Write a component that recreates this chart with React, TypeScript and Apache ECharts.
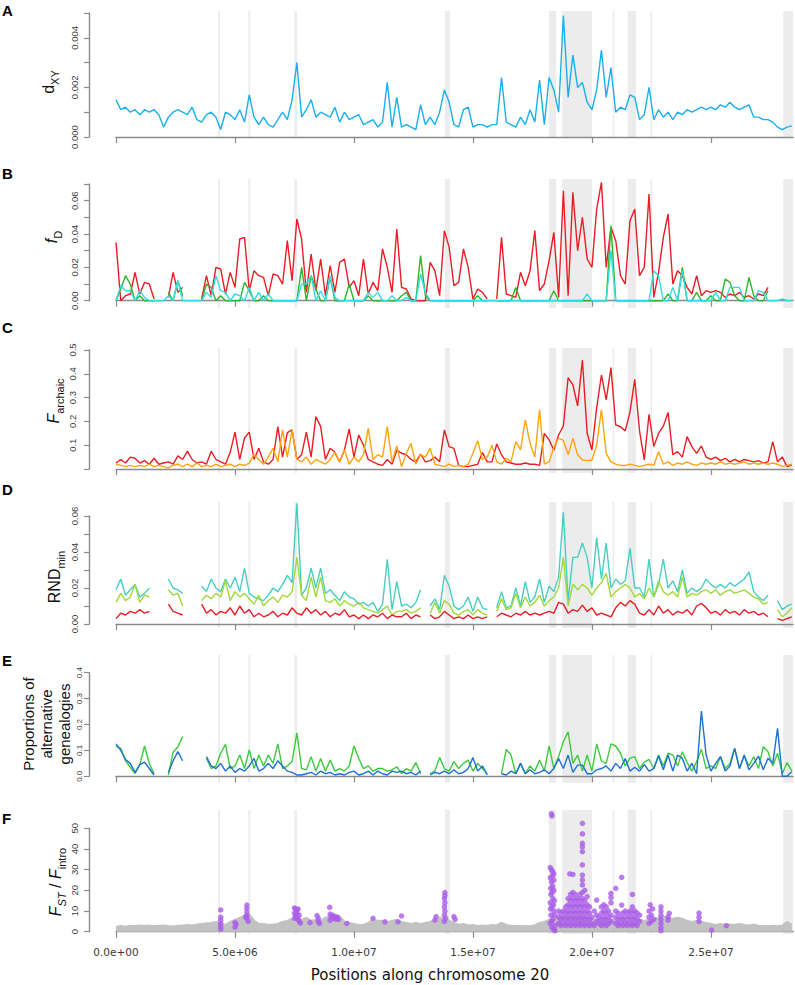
import React, { useEffect, useRef } from "react";
import * as echarts from "echarts";

// window positions along chromosome 20, in Mb
const positionsMb = [
  0, 0.2, 0.4, 0.6, 0.8, 1, 1.2, 1.4, 1.6, 1.8,
  2, 2.2, 2.4, 2.6, 2.8, 3, 3.2, 3.4, 3.6, 3.8,
  4, 4.2, 4.4, 4.6, 4.8, 5, 5.2, 5.4, 5.6, 5.8,
  6, 6.2, 6.4, 6.6, 6.8, 7, 7.2, 7.4, 7.6, 7.8,
  8, 8.2, 8.4, 8.6, 8.8, 9, 9.2, 9.4, 9.6, 9.8,
  10, 10.2, 10.4, 10.6, 10.8, 11, 11.2, 11.4, 11.6, 11.8,
  12, 12.2, 12.4, 12.6, 12.8, 13, 13.2, 13.4, 13.6, 13.8,
  14, 14.2, 14.4, 14.6, 14.8, 15, 15.2, 15.4, 15.6, 15.8,
  16, 16.2, 16.4, 16.6, 16.8, 17, 17.2, 17.4, 17.6, 17.8,
  18, 18.2, 18.4, 18.6, 18.8, 19, 19.2, 19.4, 19.6, 19.8,
  20, 20.2, 20.4, 20.6, 20.8, 21, 21.2, 21.4, 21.6, 21.8,
  22, 22.2, 22.4, 22.6, 22.8, 23, 23.2, 23.4, 23.6, 23.8,
  24, 24.2, 24.4, 24.6, 24.8, 25, 25.2, 25.4, 25.6, 25.8,
  26, 26.2, 26.4, 26.6, 26.8, 27, 27.2, 27.4, 27.6, 27.8,
  28, 28.2, 28.4,
];

// A: dXY (x 1e-3)
const dxyE3 = [
  1.5, 1.1, 1.2, 1.0, 1.1, 0.9, 1.1, 1.0, 1.1, 0.9,
  0.4, 0.8, 1.0, 1.1, 1.0, 0.9, 1.2, 0.7, 0.6, 0.9,
  1.0, 0.8, 0.3, 1.0, 0.9, 0.7, 1.1, 0.6, 1.7, 0.8,
  0.5, 0.8, 0.5, 0.4, 0.7, 1.0, 0.7, 1.5, 3.0, 0.8,
  1.1, 1.5, 0.8, 1.0, 0.9, 0.8, 1.2, 0.6, 1.0, 0.7,
  0.8, 0.9, 0.5, 0.6, 0.7, 0.4, 0.6, 2.2, 0.4, 1.6,
  0.4, 0.5, 0.4, 0.3, 1.3, 0.5, 0.8, 0.5, 1.0, 1.9,
  1.4, 0.5, 0.4, 1.1, 1.2, 0.4, 0.5, 0.5, 0.4, 0.5,
  0.5, 2.4, 0.6, 0.5, 0.4, 0.8, 0.5, 1.1, 0.6, 2.3,
  0.5, 2.4, 1.9, 1.0, 4.9, 1.6, 3.3, 2.0, 2.2, 1.4,
  1.1, 1.9, 3.5, 1.6, 2.8, 1.0, 1.2, 1.1, 1.7, 1.6,
  0.7, 0.9, 2.0, 0.7, 1.1, 0.8, 1.0, 0.7, 1.0, 0.9,
  1.1, 1.0, 1.1, 1.2, 1.1, 1.2, 1.1, 1.3, 1.2, 1.4,
  1.2, 1.1, 1.2, 1.3, 0.8, 0.8, 0.7, 0.7, 0.6, 0.4,
  0.3, 0.4, 0.45,
];

// B: fD (x 1e-2)
const fdRed = [
  3.5, 0.0, 0.3, 0.4, 1.7, 0.4, 1.1, 1.0, 0.1, null,
  null, 0.2, 1.7, 0.5, 0.8, null, null, null, 0.1, 1.5,
  0.3, 2.0, 1.9, 0.4, 1.7, 0.8, 3.7, 3.8, 0.6, 1.8,
  1.5, 1.4, 0.3, 1.6, 1.5, 1.0, 3.6, 1.2, 4.9, 3.7,
  0.5, 2.8, 0.6, 2.5, 0.3, 2.1, 0.5, 2.3, 2.5, 0.8,
  1.2, 0.3, 2.5, 0.4, 1.1, 0.6, 3.1, 2.0, 0.5, 4.3,
  0.8, 0.7, 0.1, 0.0, 0.0, 0.0, 2.3, 1.8, 0.3, 4.2,
  3.2, 0.9, 1.1, 3.1, 2.0, 0.1, 0.7, 0.5, 0.1, null,
  0.1, 3.8, 0.4, 0.3, 0.2, 1.7, 0.9, 1.8, 4.2, 0.6,
  1.0, 2.4, 4.1, 0.2, 6.6, 0.3, 6.5, 3.0, 5.0, 2.5,
  2.0, 5.5, 7.1, 2.0, 4.4, 3.6, 1.5, 1.0, 4.8, 5.5,
  1.5, 2.0, 6.4, 0.2, 1.7, 3.8, 5.2, 1.0, 1.8, 1.5,
  0.8, 0.4, 1.5, 0.3, 0.6, 0.5, 0.6, 0.5, 0.2, 0.4,
  0.3, 0.5, 0.2, 0.3, 0.1, 0.4, 0.3, 0.8, null, null,
  null, null, null,
];
const fdGreen = [
  0.0, 0.7, 1.5, 1.0, 0.0, 0.3, 0.0, 0.0, 0.0, null,
  null, 0.5, 0.0, 1.2, 0.3, null, null, null, 0.0, 1.0,
  0.8, 0.0, 0.3, 0.0, 0.0, 0.0, 0.0, 1.1, 0.6, 0.0,
  0.0, 0.3, 0.0, 0.0, 0.0, 0.0, 0.0, 0.0, 0.0, 2.0,
  0.0, 1.5, 0.7, 0.0, 0.0, 1.4, 0.0, 0.0, 0.0, 1.0,
  0.0, 0.0, 0.0, 0.3, 0.0, 0.0, 0.0, 0.0, 0.0, 0.0,
  0.3, 0.5, 0.0, 0.0, 2.7, 0.3, 0.0, 0.0, 0.0, 0.0,
  0.0, 0.0, 0.0, 0.0, 0.0, 0.0, 0.3, 0.0, 0.0, null,
  0.0, 0.0, 0.0, 0.0, 0.8, 0.0, 0.0, 0.0, 0.0, 0.0,
  0.0, 0.0, 0.6, 0.0, 0.0, 0.0, 0.0, 0.0, 0.0, 0.0,
  0.0, 0.0, 0.0, 0.0, 4.5, 0.0, 0.0, 0.0, 0.0, 0.0,
  0.0, 0.0, 0.0, 0.0, 0.0, 0.0, 0.4, 0.0, 0.0, 2.0,
  0.0, 0.0, 0.5, 0.0, 0.0, 0.3, 0.0, 0.0, 1.3, 1.1,
  0.3, 0.0, 0.0, 1.4, 0.3, 0.0, 0.0, 0.6, null, null,
  null, null, null,
];
const fdCyan = [
  0.0, 0.9, 0.6, 0.6, 0.0, 0.6, 0.2, 0.0, 0.0, 0.0,
  0.0, 0.3, 0.0, 1.2, 0.0, 0.0, 0.0, 0.0, 0.0, 0.5,
  0.2, 1.5, 0.6, 0.5, 0.0, 0.4, 0.3, 0.0, 0.8, 0.0,
  0.5, 0.0, 0.4, 0.0, 0.0, 0.0, 0.0, 0.0, 0.0, 1.0,
  1.0, 1.5, 0.0, 0.6, 0.0, 1.5, 0.2, 0.0, 0.0, 0.0,
  0.0, 0.0, 0.0, 0.5, 0.2, 0.5, 0.0, 0.0, 0.3, 0.0,
  0.0, 0.2, 0.0, 0.0, 1.6, 0.5, 0.0, 0.0, 0.0, 0.0,
  0.0, 0.0, 0.0, 0.0, 0.0, 0.0, 0.0, 0.0, 0.0, 0.0,
  0.0, 0.0, 0.0, 0.0, 0.0, 0.0, 0.0, 0.0, 0.0, 0.0,
  0.0, 0.0, 0.0, 0.0, 0.0, 0.0, 0.0, 0.0, 0.0, 0.4,
  0.0, 0.0, 0.0, 0.0, 3.0, 0.0, 0.0, 0.0, 0.0, 0.0,
  0.0, 0.0, 0.0, 1.8, 1.5, 0.0, 0.0, 0.8, 0.0, 1.8,
  0.0, 0.0, 0.0, 0.0, 0.0, 0.0, 0.5, 0.0, 0.0, 0.8,
  0.8, 0.8, 0.0, 0.0, 0.0, 0.6, 0.5, 0.0, 0.0, 0.0,
  0.1, 0.0, 0.0,
];

// C: F_archaic (x 1e-2)
const farchRed = [
  2.5, 4.0, 2.5, 5.0, 4.5, 2.5, 3.5, 2.0, 4.5, 2.0,
  2.5, 3.0, 2.0, 5.5, 4.0, 7.5, 4.0, 2.5, 3.0, 2.0,
  7.5, 4.0, 3.0, 2.0, 7.0, 15.5, 4.0, 13.0, 15.5, 4.0,
  8.7, 3.0, 2.0, 4.0, 17.8, 5.0, 15.3, 16.4, 4.0, 6.0,
  15.5, 5.0, 22.0, 17.8, 4.0, 8.7, 7.0, 3.0, 8.0, 16.8,
  5.0, 14.3, 10.0, 4.0, 3.0, 2.0, 1.5, 4.0, 2.0, 8.0,
  6.6, 6.0, 4.0, 3.0, 6.3, 3.0, 3.5, 5.0, 3.0, 16.4,
  9.4, 8.7, 1.5, 1.0, 1.0, 1.5, 2.0, 6.9, 3.0, 3.0,
  10.5, 6.0, 3.0, 2.5, 2.0, 2.0, 2.5, 2.0, 2.0, 1.5,
  15.0, 12.2, 8.0, 14.3, 18.1, 38.4, 35.3, 26.5, 45.8, 15.0,
  8.0, 25.8, 39.5, 29.0, 42.6, 18.5, 17.8, 16.0, 24.0, 37.7,
  16.0, 3.8, 23.0, 9.4, 15.0, 18.0, 23.8, 6.0, 7.3, 5.0,
  13.6, 9.4, 6.6, 9.7, 5.0, 4.0, 5.0, 3.5, 4.5, 3.0,
  4.0, 3.0, 4.0, 3.5, 3.0, 3.5, 2.5, 3.0, 11.5, 3.0,
  5.0, 1.0, 1.7,
];
const farchOrange = [
  2.0, 1.5, 1.0, 1.5, 1.0, 1.5, 1.0, 2.0, 1.0, 1.5,
  1.0, 0.5, 1.5, 2.0, 1.0, 2.0, 1.0, 2.5, 1.0, 1.5,
  1.0, 2.0, 1.0, 1.5, 2.0, 1.0, 2.0, 1.5, 2.5, 6.0,
  4.0, 2.0, 5.0, 8.7, 3.0, 16.4, 5.0, 16.4, 4.0, 3.0,
  5.0, 2.0, 4.0, 3.0, 2.0, 4.0, 7.0, 3.0, 8.0, 2.0,
  5.0, 3.0, 6.0, 17.1, 4.0, 6.0, 5.0, 17.8, 3.0, 9.7,
  1.0, 6.6, 10.8, 2.0, 6.0, 5.0, 8.7, 2.0, 1.5, 1.0,
  2.0, 1.0, 1.5, 1.0, 2.0, 6.6, 11.9, 4.0, 5.0, 10.0,
  3.0, 2.0, 4.5, 3.0, 11.5, 8.0, 20.6, 10.8, 5.0, 25.0,
  2.0, 3.0, 9.0, 13.0, 12.0, 6.0, 12.9, 6.0, 3.8, 3.5,
  3.8, 10.0, 25.0, 6.6, 3.0, 2.0, 1.5, 1.5, 2.0, 1.5,
  1.0, 1.5, 2.0, 1.5, 7.3, 2.0, 3.0, 1.5, 2.5, 2.0,
  3.0, 2.0, 1.5, 2.5, 2.0, 2.5, 2.0, 3.0, 2.0, 2.5,
  2.0, 2.5, 3.0, 2.0, 2.5, 2.0, 2.5, 2.0, 2.5, 2.0,
  1.0, 1.5, 2.0,
];

// D: RND_min (x 1e-2)
const rndTurquoise = [
  1.9, 2.5, 1.6, 1.9, 2.2, 1.5, 1.7, 2.0, null, null,
  null, 2.5, 2.0, 1.9, 1.7, null, null, null, 2.1, 1.8,
  2.5, 2.0, 1.8, 2.5, 2.0, 2.6, 1.8, 3.1, 1.7, 1.5,
  1.4, 1.3, 1.6, 2.0, 1.8, 2.2, 2.7, 2.3, 6.7, 1.6,
  2.0, 3.1, 2.0, 3.1, 1.7, 1.9, 1.6, 1.3, 1.8, 1.5,
  1.4, 1.1, 1.2, 1.0, 1.2, 0.7, 1.1, 3.6, 0.8, 2.35,
  1.0, 1.1, 0.9, 1.2, 1.9, null, 1.0, 1.4, 0.8, 2.7,
  2.1, 1.0, 0.8, 1.0, 1.5, 0.7, 1.5, 0.9, 0.8, null,
  0.9, 1.8, 0.9, 1.0, 2.0, 1.0, 2.35, 1.2, 1.5, 2.5,
  1.2, 2.1, 1.8, 2.6, 6.2, 1.3, 3.7, 3.7, 4.5, 3.7,
  2.0, 4.8, 2.5, 4.5, 2.0, 2.5, 2.2, 2.4, 4.2, 2.0,
  2.0, 1.5, 3.6, 1.5, 2.2, 3.6, 2.0, 2.4, 1.8, 3.0,
  1.7, 2.0, 1.8, 2.0, 2.5, 2.2, 2.0, 2.2, 2.0, 2.3,
  2.1, 2.3, 2.5, 2.9, 1.8, 1.5, 1.3, 1.6, null, 1.3,
  0.8, 1.0, 1.1,
];
const rndYellowGreen = [
  1.2, 1.7, 1.3, 1.5, 2.2, 1.2, 1.6, 1.5, null, null,
  null, 1.9, 1.6, 1.7, 1.0, null, null, null, 1.3, 1.6,
  1.4, 1.7, 1.5, 2.4, 1.3, 1.8, 1.5, 1.7, 1.4, 1.1,
  1.6, 1.0, 1.3, 1.5, 1.2, 1.6, 1.5, 1.8, 3.7, 1.6,
  1.3, 2.6, 1.5, 2.6, 1.3, 1.2, 1.4, 1.0, 1.3, 1.1,
  1.0, 1.2, 0.9, 0.8, 0.7, 0.6, 0.8, 1.0, 0.5, 0.7,
  0.7, 0.8, 0.6, 0.7, 0.9, null, 0.6, 1.2, 0.6, 1.3,
  1.1, 0.6, 0.5, 0.7, 0.8, 0.5, 0.8, 0.6, 0.5, null,
  0.7, 1.4, 0.8, 0.9, 1.7, 0.9, 1.5, 1.0, 1.2, 1.6,
  1.0, 1.3, 1.5, 2.0, 3.7, 1.0, 2.2, 1.9, 2.2, 2.0,
  1.6, 2.0, 2.3, 2.8, 1.5, 1.8, 2.0, 2.2, 2.0, 1.5,
  1.7, 1.4, 2.0, 1.5, 2.4, 1.8, 1.6, 1.8, 1.5, 2.6,
  1.5, 1.7, 1.6, 1.8, 1.9, 1.7, 1.9, 1.6, 1.8, 1.9,
  1.7, 1.8, 1.9, 1.7, 1.5, 1.4, 1.1, 1.2, null, 0.8,
  0.4, 0.6, 0.9,
];
const rndRed = [
  0.3, 0.6, 0.5, 0.7, 0.6, 0.8, 0.6, 0.7, null, null,
  null, 1.1, 0.7, 0.6, 0.5, null, null, null, 1.1, 0.6,
  0.8, 0.5, 0.7, 0.6, 0.9, 0.5, 1.0, 0.6, 0.8, 0.4,
  0.6, 0.4, 0.5, 0.7, 0.4, 0.6, 0.5, 0.9, 0.6, 0.5,
  0.9, 0.6, 0.8, 0.5, 0.7, 0.4, 0.6, 0.5, 0.8, 0.4,
  0.5, 0.3, 0.5, 0.3, 0.5, 0.4, 0.6, 0.3, 0.5, 0.4,
  0.4, 0.6, 0.3, 0.5, 0.4, null, 0.5, 0.3, 0.4, 0.7,
  0.5, 0.3, 0.4, 0.3, 0.5, 0.3, 0.4, 0.3, 0.4, null,
  0.4, 0.6, 0.5, 0.4, 0.6, 0.5, 0.7, 0.5, 0.6, 0.5,
  0.6, 0.7, 0.6, 1.2, 1.1, 0.6, 0.8, 0.7, 1.05, 0.7,
  0.9, 0.5, 0.6, 0.5, 0.4, 0.9, 1.2, 1.0, 1.3, 1.1,
  0.6, 0.5, 0.8, 0.5, 1.0, 0.6, 0.8, 0.5, 0.7, 0.6,
  0.8, 0.5, 1.0, 1.15, 0.9, 0.6, 0.7, 0.5, 0.8, 0.6,
  0.7, 0.5, 0.8, 0.6, 0.7, 0.5, 0.6, 0.4, null, 0.3,
  0.2, 0.3, 0.4,
];

// E: proportions of alternative genealogies (x 1e-2)
const altGreen = [
  11.7, 10.8, 6.0, 3.5, 1.0, 4.5, 11.7, 5.0, 1.0, null,
  null, 0.5, 9.3, 11.4, 15.3, null, null, null, null, 6.9,
  3.0, 4.0, 8.9, 12.3, 3.0, 4.0, 8.2, 3.0, 10.2, 3.0,
  8.2, 4.0, 8.2, 5.0, 12.5, 3.0, 4.0, 5.7, 16.8, 3.0,
  2.5, 7.6, 2.0, 6.9, 2.0, 6.3, 2.0, 3.0, 2.0, 4.0,
  11.7, 6.9, 3.0, 4.0, 2.0, 3.0, 3.0, 2.0, 2.5, 3.7,
  1.0, 3.0, 2.0, 5.3, 1.0, null, 1.0, 2.0, 7.3, 3.0,
  2.0, 5.7, 3.0, 5.0, 6.3, 2.0, 5.0, 3.0, 1.0, null,
  null, 1.0, 10.4, 8.2, 1.0, 5.0, 1.0, 4.0, 2.0, 6.3,
  2.0, 11.7, 3.0, 7.6, 13.4, 17.2, 5.0, 8.2, 2.0, 8.2,
  2.0, 12.5, 6.0, 5.0, 12.5, 11.7, 8.9, 4.0, 7.0, 7.6,
  3.0, 5.5, 6.5, 3.0, 8.2, 4.0, 8.9, 8.2, 4.0, 9.5,
  5.3, 2.0, 5.7, 10.4, 3.0, 4.0, 3.0, 7.6, 3.0, 5.0,
  10.8, 3.0, 7.9, 4.0, 7.6, 3.0, 11.4, 9.5, 4.0, 8.9,
  1.0, 5.3, 2.0,
];
const altBlue = [
  12.5, 10.0, 6.5, 5.0, 1.5, 4.5, 5.5, 3.0, 0.5, null,
  null, 1.5, 6.0, 9.5, 6.0, null, null, null, null, 7.6,
  4.0, 3.0, 5.0, 2.0, 4.0, 1.5, 3.0, 2.0, 4.0, 6.9,
  2.0, 3.0, 5.0, 3.0, 6.0, 4.0, 2.0, 1.5, 0.5, 0.5,
  1.0, 1.5, 0.5, 2.0, 1.0, 1.5, 0.5, 1.0, 0.5, 1.5,
  2.0, 0.5, 1.0, 2.0, 0.5, 2.0, 1.0, 0.5, 2.0, 1.5,
  2.0, 1.0, 1.5, 0.5, 2.0, null, 0.5, 1.5, 1.0, 2.0,
  1.0, 2.5, 1.0, 1.5, 3.0, 7.2, 2.0, 4.0, 0.5, null,
  null, 1.0, 0.5, 2.0, 1.0, 5.0, 1.0, 2.5, 1.0, 1.5,
  2.5, 1.0, 3.0, 6.9, 3.0, 8.2, 1.5, 4.3, 4.3, 1.0,
  1.0, 2.5, 3.0, 4.0, 2.0, 5.0, 3.0, 6.9, 2.0, 3.5,
  2.0, 4.5, 2.0, 3.0, 7.8, 2.5, 8.2, 2.0, 8.2, 6.9,
  2.0, 5.0, 1.0, 25.2, 8.2, 2.0, 5.0, 7.6, 2.0, 4.0,
  10.8, 3.0, 8.2, 2.5, 5.0, 7.8, 2.5, 7.0, 5.0, 18.5,
  0.0, 0.0, 1.8,
];

// F: FST / Fintro, upper envelope of the grey background windows
const fstBackground = [
  2.0, 2.5, 2.2, 2.6, 2.4, 2.8, 2.5, 2.7, 2.4, 2.6,
  2.8, 2.5, 2.3, 2.6, 2.8, 3.0, 2.8, 3.2, 3.5, 3.8,
  4.0, 4.5, 3.5, 3.0, 4.5, 5.5, 6.5, 7.5, 8.0, 5.0,
  3.5, 3.5, 3.0, 3.2, 3.5, 4.5, 5.0, 6.0, 6.5, 5.5,
  6.5, 5.0, 5.5, 5.0, 6.5, 7.5, 8.0, 7.0, 4.5, 4.0,
  3.5, 3.0, 3.0, 4.0, 5.5, 5.0, 5.0, 4.5, 5.0, 5.5,
  4.5, 4.0, 3.5, 4.0, 3.5, 4.0, 4.5, 5.5, 6.5, 6.0,
  5.0, 4.0, 3.0, 3.5, 2.8, 3.0, 2.5, 2.8, 2.5, 3.0,
  2.8, 4.0, 3.0, 2.5, 2.6, 2.4, 2.5, 2.4, 2.8, 4.0,
  4.5, 5.5, 6.0, 6.5, 7.0, 7.5, 7.0, 7.5, 7.0, 6.5,
  6.0, 5.5, 6.0, 5.5, 6.0, 5.0, 5.5, 5.0, 4.5, 5.0,
  5.5, 5.0, 5.5, 6.0, 6.5, 7.2, 6.5, 6.0, 6.5, 6.0,
  5.0, 4.5, 5.0, 4.5, 4.0, 3.5, 3.0, 3.5, 3.0, 3.2,
  3.0, 3.5, 3.0, 2.8, 3.2, 2.6, 2.5, 2.4, 2.6, 2.5,
  2.6, 4.5, 3.0,
];

// F: introgressed outlier windows [Mb, FST/Fintro]
const introPoints = [
  [4.4, 10.5], [4.4, 7], [4.4, 5.5], [4.4, 4], [4.4, 2.5], [4.4, 1.2],
  [5.0, 2.2], [5.05, 3.5], [5.0, 4.4],
  [5.5, 12.9], [5.5, 11.3], [5.5, 9.5], [5.5, 8], [5.5, 6.5], [5.55, 5], [5.45, 7],
  [7.5, 11.5], [7.55, 10.8], [7.6, 10.5], [7.65, 11], [7.5, 9], [7.55, 8], [7.6, 7], [7.65, 6],
  [7.7, 5], [7.5, 6.5], [7.6, 9], [7.7, 8], [7.75, 4.2],
  [8.15, 4.4], [8.45, 7.8], [8.5, 6.5], [8.5, 5], [8.55, 4],
  [8.98, 11.8], [9.0, 8.5], [9.05, 7], [9.1, 8], [9.15, 6.5], [9.2, 7.2], [9.25, 6], [9.3, 7],
  [9.35, 6], [9.0, 5.5],
  [9.7, 4.0], [10.8, 6.5], [11.3, 4.8], [11.85, 4.8], [12.0, 7.6],
  [13.4, 5.6], [13.45, 7.3],
  [13.82, 18.9], [13.82, 17.5], [13.8, 16], [13.82, 14], [13.8, 12], [13.82, 10], [13.8, 8],
  [13.85, 6.5], [13.8, 5],
  [14.2, 7.3], [14.25, 6],
  [18.3, 57], [18.32, 56], [18.25, 31], [18.3, 30], [18.35, 29], [18.4, 28], [18.34, 27],
  [18.25, 26], [18.4, 25], [18.3, 24], [18.35, 22], [18.27, 21], [18.4, 20], [18.33, 19],
  [18.28, 18], [18.36, 16], [18.42, 15], [18.25, 14], [18.38, 13], [18.32, 12], [18.26, 11],
  [18.4, 10], [18.28, 8], [18.44, 8], [18.36, 6], [18.3, 5], [18.25, 4], [18.45, 3],
  [18.32, 2], [18.4, 1], [18.45, 0.5],
  [18.6, 4], [18.6, 7], [18.6, 10], [18.7, 3], [18.7, 6], [18.7, 9], [18.8, 4], [18.8, 7],
  [18.8, 10], [18.9, 3], [18.9, 6], [18.9, 9], [18.9, 12], [19.0, 4], [19.0, 7], [19.0, 10],
  [19.0, 13], [19.0, 16], [19.07, 28], [19.1, 3], [19.1, 6], [19.1, 9], [19.1, 12], [19.1, 15],
  [19.1, 18], [19.2, 4], [19.2, 7], [19.2, 10], [19.2, 13], [19.2, 16], [19.2, 19], [19.2, 27.7],
  [19.3, 3], [19.3, 6], [19.3, 9], [19.3, 12], [19.3, 15], [19.3, 18], [19.4, 4], [19.4, 7],
  [19.4, 10], [19.4, 13], [19.4, 16], [19.5, 3], [19.5, 6], [19.5, 9], [19.5, 12], [19.5, 15],
  [19.5, 18], [19.6, 4], [19.6, 7], [19.6, 10], [19.6, 13], [19.6, 16], [19.6, 19], [19.6, 22.6],
  [19.6, 25], [19.6, 27.4], [19.6, 32.3], [19.6, 38.7], [19.6, 41], [19.6, 42.7], [19.6, 47.3],
  [19.6, 52.4], [19.7, 3], [19.7, 6], [19.7, 9], [19.7, 12], [19.7, 15], [19.7, 20], [19.8, 4],
  [19.8, 7], [19.8, 10], [19.8, 13], [19.8, 17], [19.9, 3], [19.9, 6], [19.9, 9], [19.9, 12],
  [20.0, 4], [20.0, 7], [20.1, 3], [20.1, 10], [20.2, 5], [20.2, 8], [20.2, 15.3], [20.3, 4],
  [20.3, 7], [20.4, 3], [20.4, 6], [20.4, 9], [20.4, 12], [20.5, 4], [20.5, 7], [20.5, 10],
  [20.5, 13], [20.6, 3], [20.6, 6], [20.6, 9], [20.6, 12], [20.7, 4], [20.7, 7], [20.7, 10],
  [20.8, 5], [20.8, 8], [20.8, 14], [20.8, 16.5], [20.8, 18.5],
  [21.0, 21], [21.0, 4], [21.0, 7], [21.0, 10], [21.1, 3], [21.1, 6], [21.1, 9], [21.2, 4],
  [21.2, 7], [21.25, 12.9], [21.25, 26.3], [21.3, 3], [21.3, 6], [21.3, 9], [21.4, 4], [21.4, 7],
  [21.4, 10], [21.5, 3], [21.5, 6], [21.5, 9], [21.6, 4], [21.6, 7], [21.6, 10], [21.7, 18],
  [21.7, 12], [21.7, 3], [21.7, 6], [21.7, 9], [21.8, 4], [21.8, 7], [21.8, 10], [21.9, 3],
  [21.9, 6], [21.9, 9], [22.0, 5], [22.0, 8],
  [22.4, 4], [22.4, 7], [22.4, 10], [22.45, 13], [22.5, 5], [22.5, 8], [22.55, 11], [22.6, 6],
  [22.9, 12], [22.9, 10], [22.9, 8], [22.9, 6], [22.9, 4], [22.9, 2], [22.9, 0.5],
  [23.2, 5.6], [23.2, 7.2], [23.25, 8.9],
  [24.5, 5], [24.5, 7], [24.5, 9],
  [25.03, 0.8], [25.65, 2.9],
];

// shaded candidate regions [start Mb, end Mb]
const shadedRegions = [
  [4.29, 4.37], [5.56, 5.64], [7.5, 7.61], [13.82, 14.03], [18.19, 18.5],
  [18.75, 20.0], [20.87, 20.93], [21.5, 21.85], [22.46, 22.53], [28.04, 28.45],
];

const xTickValues = [0, 5, 10, 15, 20, 25];
const xTickLabels = ["0.0e+00", "5.0e+06", "1.0e+07", "1.5e+07", "2.0e+07", "2.5e+07"];

// ---------------- layout ----------------
const X_MAX = 28.45;
const PLOT_LEFT = 116;
const PLOT_RIGHT = 2;
const AXIS_X = 89;
const AXIS_COLOR = "#8a8a8a";
const LABEL_COLOR = "#3a3a3a";
const SANS = "'Liberation Sans', Arial, sans-serif";
const VERDANA = "'DejaVu Sans', Verdana, sans-serif";

type Geom = {
  bandTop: number; zeroY: number; topY: number; axisY: number;
  topVal: number; step: number; every: number; dec: number; skipZero?: boolean;
  margin: number; labelSize: number;
};
const geoms: Geom[] = [
  { bandTop: 11, zeroY: 137, topY: 13, axisY: 137, topVal: 0.005, step: 0.001, every: 2, dec: 3, margin: 10, labelSize: 9.5 },
  { bandTop: 179, zeroY: 300.7, topY: 184, axisY: 308, topVal: 0.07, step: 0.01, every: 2, dec: 2, margin: 10, labelSize: 9.5 },
  { bandTop: 348, zeroY: 469, topY: 350, axisY: 473, topVal: 0.5, step: 0.1, every: 1, dec: 1, skipZero: true, margin: 12, labelSize: 9.5 },
  { bandTop: 502, zeroY: 624, topY: 516, axisY: 628, topVal: 0.06, step: 0.01, every: 2, dec: 2, margin: 10, labelSize: 9.5 },
  { bandTop: 655, zeroY: 776.3, topY: 672.7, axisY: 782.7, topVal: 0.4, step: 0.1, every: 1, dec: 1, margin: 6, labelSize: 8 },
  { bandTop: 810, zeroY: 931.7, topY: 828.3, axisY: 934, topVal: 50, step: 10, every: 1, dec: 0, margin: 10, labelSize: 9.5 },
];

type LineDef = { vals: (number | null)[]; scale: number; color: string };
const panelLines: LineDef[][] = [
  [{ vals: dxyE3, scale: 1e-3, color: "#17b0ef" }],
  [
    { vals: fdRed, scale: 0.01, color: "#ec1c24" },
    { vals: fdGreen, scale: 0.01, color: "#2db52d" },
    { vals: fdCyan, scale: 0.01, color: "#30dce6" },
  ],
  [
    { vals: farchRed, scale: 0.01, color: "#ec1c24" },
    { vals: farchOrange, scale: 0.01, color: "#fda40f" },
  ],
  [
    { vals: rndTurquoise, scale: 0.01, color: "#46cfc1" },
    { vals: rndYellowGreen, scale: 0.01, color: "#a0d93a" },
    { vals: rndRed, scale: 0.01, color: "#ec1c24" },
  ],
  [
    { vals: altGreen, scale: 0.01, color: "#3ccb3c" },
    { vals: altBlue, scale: 0.01, color: "#1c6fd6" },
  ],
  [],
];

function buildOption() {
  const grid: any[] = [];
  const xAxis: any[] = [];
  const yAxis: any[] = [];
  const series: any[] = [];

  geoms.forEach((g, p) => {
    const ppu = (g.zeroY - g.topY) / g.topVal;
    grid.push({ left: PLOT_LEFT, right: PLOT_RIGHT, top: g.bandTop, height: g.axisY - g.bandTop });
    grid.push({ left: AXIS_X, width: 10, top: g.topY, height: g.zeroY - g.topY });

    xAxis.push({
      type: "value", gridIndex: 2 * p, min: 0, max: X_MAX, interval: 5,
      axisLine: { show: true, lineStyle: { color: AXIS_COLOR, width: 1.4 } },
      axisTick: { show: true, customValues: xTickValues, length: 6, lineStyle: { color: AXIS_COLOR, width: 1.2 } },
      axisLabel: {
        show: p === 5, customValues: xTickValues, margin: 12,
        color: LABEL_COLOR, fontSize: 10.5, fontFamily: VERDANA,
        formatter: (v: number) => {
          const k = xTickValues.indexOf(Math.round(v * 100) / 100);
          return k >= 0 ? xTickLabels[k] : "";
        },
      },
      splitLine: { show: false },
    });
    xAxis.push({ type: "value", gridIndex: 2 * p + 1, min: 0, max: 1, show: false });

    yAxis.push({
      type: "value", gridIndex: 2 * p, show: false,
      min: -(g.axisY - g.zeroY) / ppu, max: (g.zeroY - g.bandTop) / ppu,
      splitLine: { show: false },
    });
    yAxis.push({
      type: "value", gridIndex: 2 * p + 1, min: 0, max: g.topVal, interval: g.step,
      axisLine: { show: true, lineStyle: { color: AXIS_COLOR, width: 1.4 } },
      axisTick: { show: true, length: 5, lineStyle: { color: AXIS_COLOR, width: 1.2 } },
      axisLabel: {
        rotate: 90, margin: g.margin, color: LABEL_COLOR, fontSize: g.labelSize, fontFamily: SANS,
        showMinLabel: true, showMaxLabel: true,
        formatter: (v: number) => {
          const k = Math.round(v / g.step);
          if (k % g.every !== 0) return "";
          if (g.skipZero && k === 0) return "";
          return v.toFixed(g.dec);
        },
      },
      splitLine: { show: false },
    });

    series.push({
      type: "custom", xAxisIndex: 2 * p, yAxisIndex: 2 * p, silent: true, z: 0,
      data: shadedRegions,
      renderItem: (params: any, api: any) => {
        const s = api.coord([api.value(0), 0]);
        const e = api.coord([api.value(1), 0]);
        const cs = params.coordSys;
        return {
          type: "rect",
          shape: { x: s[0], y: cs.y, width: Math.max(e[0] - s[0], 1.6), height: cs.height },
          style: { fill: "#ececec" },
        };
      },
    });

    panelLines[p].forEach((ld, k) => {
      series.push({
        type: "line", xAxisIndex: 2 * p, yAxisIndex: 2 * p, silent: true,
        z: 2 + k, symbol: "none", showSymbol: false, connectNulls: false,
        lineStyle: { color: ld.color, width: 1.4 }, itemStyle: { color: ld.color },
        data: positionsMb.map((x, i) => [x, ld.vals[i] === null ? null : (ld.vals[i] as number) * ld.scale]),
      });
    });
  });

  // panel F
  series.push({
    type: "line", xAxisIndex: 10, yAxisIndex: 10, silent: true, z: 2,
    symbol: "none", showSymbol: false,
    lineStyle: { color: "#c2c2c2", width: 3 },
    areaStyle: { color: "#c2c2c2", opacity: 1 },
    data: positionsMb.map((x, i) => [x, fstBackground[i]]),
  });
  series.push({
    type: "scatter", xAxisIndex: 10, yAxisIndex: 10, silent: true, z: 3,
    symbolSize: 5.5, itemStyle: { color: "#aa5ce8" },
    data: introPoints,
  });

  const rich = {
    m: { fontSize: 16, lineHeight: 24, fontFamily: SANS, fill: "#111" },
    mi: { fontSize: 16, lineHeight: 24, fontFamily: SANS, fontStyle: "italic", fill: "#111" },
    s: { fontSize: 11, lineHeight: 13, verticalAlign: "bottom", fontFamily: SANS, fill: "#111" },
    si: { fontSize: 11, lineHeight: 13, verticalAlign: "bottom", fontFamily: SANS, fontStyle: "italic", fill: "#111" },
  };
  const titles = [
    { t: "{m|d}{s|XY}", x: 48, y: 82 },
    { t: "{mi|f}{s|D}", x: 51, y: 237 },
    { t: "{mi|F}{s|archaic}", x: 53, y: 401 },
    { t: "{m|RND}{s|min}", x: 54, y: 577 },
    { t: "{mi|F}{si|ST}{m| / }{mi|F}{s|intro}", x: 55, y: 882 },
  ];
  const letters = [
    { t: "A", y: 10 }, { t: "B", y: 173 }, { t: "C", y: 327 },
    { t: "D", y: 489 }, { t: "E", y: 660 }, { t: "F", y: 818 },
  ];

  const graphic: any[] = [];
  letters.forEach((l) =>
    graphic.push({
      type: "text", x: 2, y: l.y, silent: true,
      style: { text: l.t, fontSize: 15, fontWeight: "bold", fontFamily: SANS, fill: "#000", textVerticalAlign: "middle" },
    })
  );
  titles.forEach((t) =>
    graphic.push({
      type: "text", x: t.x, y: t.y, rotation: Math.PI / 2, silent: true,
      style: { text: t.t, rich, textAlign: "center", textVerticalAlign: "middle" },
    })
  );
  graphic.push({
    type: "text", x: 46, y: 724, rotation: Math.PI / 2, silent: true,
    style: {
      text: "Proportions of\nalternative\ngenealogies", fontSize: 15, lineHeight: 18,
      fontFamily: SANS, fill: "#111", textAlign: "center", textVerticalAlign: "middle",
    },
  });
  graphic.push({
    type: "text", x: 430, y: 975, silent: true,
    style: {
      text: "Positions along chromosome 20", fontSize: 15, fontFamily: VERDANA, fill: "#111",
      textAlign: "center", textVerticalAlign: "middle",
    },
  });

  return {
    animation: false,
    backgroundColor: "#ffffff",
    grid, xAxis, yAxis, series, graphic,
  };
}

export default function App() {
  const ref = useRef<HTMLDivElement>(null);
  useEffect(() => {
    if (!ref.current) return;
    const chart = echarts.init(ref.current, null, { renderer: "svg" });
    chart.setOption(buildOption() as any);
    return () => chart.dispose();
  }, []);
  return (
    <div
      ref={ref}
      style={{ position: "fixed", left: 0, top: 0, width: 795, height: 985, background: "#fff" }}
    />
  );
}
